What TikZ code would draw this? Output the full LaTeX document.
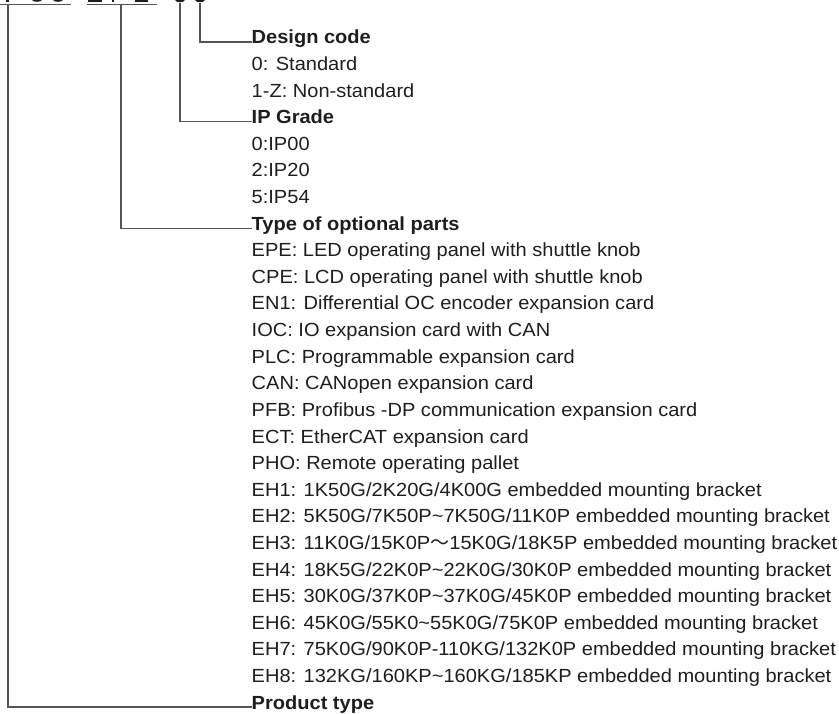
\documentclass[tikz,border=0pt]{standalone}
\usepackage{fontspec}
\setmainfont{Liberation Sans}[FakeStretch=1.055]
\newfontfamily\cjk{Noto Sans CJK SC}
\definecolor{txt}{HTML}{1E1E1E}
\definecolor{ln}{HTML}{555555}
\begin{document}
\begin{tikzpicture}[x=1pt,y=-1pt,
  item/.style={anchor=base west,inner sep=0pt,text=txt,font=\fontsize{19}{22}\selectfont},
  head/.style={item,font=\fontsize{19}{22}\selectfont\bfseries},
  conn/.style={draw=ln,line width=1.1pt},
  frag/.style={fill=txt}]
\useasboundingbox (0,0) rectangle (839,714);
\def\rowy#1{44+26.6*#1}
\def\tx{251.5}
\node[head] (r0) at (\tx,{\rowy{0}}) {Design code};
\node[item] (r1) at (\tx,{\rowy{1}}) {0: Standard};
\node[item] (r2) at (\tx,{\rowy{2}}) {1-Z: Non-standard};
\node[head] (r3) at (\tx,{\rowy{3}}) {IP Grade};
\node[item] (r4) at (\tx,{\rowy{4}}) {0:IP00};
\node[item] (r5) at (\tx,{\rowy{5}}) {2:IP20};
\node[item] (r6) at (\tx,{\rowy{6}}) {5:IP54};
\node[head] (r7) at (\tx,{\rowy{7}}) {Type of optional parts};
\node[item] (r8) at (\tx,{\rowy{8}}) {EPE: LED operating panel with shuttle knob};
\node[item] (r9) at (\tx,{\rowy{9}}) {CPE: LCD operating panel with shuttle knob};
\node[item] (r10) at (\tx,{\rowy{10}}) {EN1: Differential OC encoder expansion card};
\node[item] (r11) at (\tx,{\rowy{11}}) {IOC: IO expansion card with CAN};
\node[item] (r12) at (\tx,{\rowy{12}}) {PLC: Programmable expansion card};
\node[item] (r13) at (\tx,{\rowy{13}}) {CAN: CANopen expansion card};
\node[item] (r14) at (\tx,{\rowy{14}}) {PFB: Profibus -DP communication expansion card};
\node[item] (r15) at (\tx,{\rowy{15}}) {ECT: EtherCAT expansion card};
\node[item] (r16) at (\tx,{\rowy{16}}) {PHO: Remote operating pallet};
\node[item] (r17) at (\tx,{\rowy{17}}) {EH1: 1K50G/2K20G/4K00G embedded mounting bracket};
\node[item] (r18) at (\tx,{\rowy{18}}) {EH2: 5K50G/7K50P\textasciitilde 7K50G/11K0P embedded mounting bracket};
\node[item] (r19) at (\tx,{\rowy{19}}) {EH3: 11K0G/15K0P{\cjk ～}15K0G/18K5P embedded mounting bracket};
\node[item] (r20) at (\tx,{\rowy{20}}) {EH4: 18K5G/22K0P\textasciitilde 22K0G/30K0P embedded mounting bracket};
\node[item] (r21) at (\tx,{\rowy{21}}) {EH5: 30K0G/37K0P\textasciitilde 37K0G/45K0P embedded mounting bracket};
\node[item] (r22) at (\tx,{\rowy{22}}) {EH6: 45K0G/55K0\textasciitilde 55K0G/75K0P embedded mounting bracket};
\node[item] (r23) at (\tx,{\rowy{23}}) {EH7: 75K0G/90K0P-110KG/132K0P embedded mounting bracket};
\node[item] (r24) at (\tx,{\rowy{24}}) {EH8: 132KG/160KP\textasciitilde 160KG/185KP embedded mounting bracket};
\node[head] (r25) at (\tx,{\rowy{25}}) {Product type};
% top code fragments (cut off at the picture's top edge)
\coordinate (u1a) at (0,4.3);   \coordinate (u1b) at (71,4.3);
\coordinate (u2a) at (87,4.3);  \coordinate (u2b) at (157,4.3);
\draw[conn] (u1a) -- (u1b);
\draw[conn] (u2a) -- (u2b);
\fill[frag] (6,0) rectangle (8.5,1.6);
\fill[frag] (32,0) .. controls (33,2.4) and (41,2.4) .. (42,0) -- cycle;
\fill[frag] (53,0) .. controls (54,2.4) and (62,2.4) .. (63,0) -- cycle;
\fill[frag] (88,0) rectangle (102,2);
\fill[frag] (111.5,0) rectangle (114,1.6);
\fill[frag] (135,0) rectangle (148,2);
\fill[frag] (175,0) .. controls (176,3) and (184,3) .. (185,0) -- cycle;
\fill[frag] (195,0) .. controls (196,3) and (204,3) .. (205,0) -- cycle;
% connectors
\coordinate (c0) at (200,3);
\coordinate (c3) at (180,3);
\coordinate (c7) at (121,4.3);
\coordinate (c25) at (8,4.3);
\draw[conn] (c0) |- ([yshift=2pt]r0.base west);
\draw[conn] (c3) |- ([yshift=2pt]r3.base west);
\draw[conn] (c7) |- ([yshift=2pt]r7.base west);
\draw[conn] (c25) |- ([yshift=2pt]r25.base west);
\end{tikzpicture}
\end{document}
